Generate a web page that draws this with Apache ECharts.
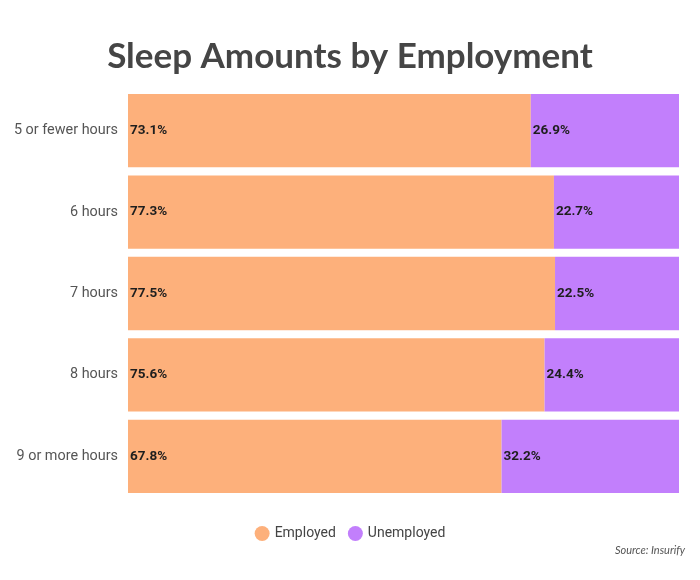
<!DOCTYPE html>
<html><head><meta charset="utf-8">
<script src="https://cdn.jsdelivr.net/npm/echarts@6/dist/echarts.min.js"></script>
<style>html,body{margin:0;padding:0;background:#fff}#c{width:700px;height:580px}</style>
</head><body><div id="c"></div>
<script>
const categories = ["5 or fewer hours", "6 hours", "7 hours", "8 hours", "9 or more hours"];
const employed = [73.1, 77.3, 77.5, 75.6, 67.8];
const unemployed = [26.9, 22.7, 22.5, 24.4, 32.2];
const seriesNames = ["Employed", "Unemployed"];

const chart = echarts.init(document.getElementById('c'));
const lbl = {
  show: true, position: 'insideLeft', distance: 2,
  color: '#1e1e1e', fontFamily: 'Roboto', fontWeight: 'bold', fontSize: 13.5,
  formatter: p => p.value.toFixed(1) + '%'
};
chart.setOption({
  backgroundColor: '#fff',
  title: {
    text: 'Sleep Amounts by Employment', left: 'center', top: 34,
    textStyle: { fontFamily: 'Lato', fontWeight: 'bold', fontSize: 35, color: '#454545' }
  },
  legend: {
    data: seriesNames, bottom: 34, left: 'center', icon: 'circle',
    itemWidth: 15, itemHeight: 15, itemGap: 12,
    textStyle: { fontFamily: 'Roboto', fontSize: 14, color: '#444' }
  },
  graphic: [{
    type: 'text', right: 15, top: 545,
    style: { text: 'Source: Insurify', font: 'italic 11px Lato', fill: '#555' }
  }],
  grid: { left: 128, right: 21, top: 90, bottom: 83 },
  xAxis: { type: 'value', min: 0, max: 100, show: false },
  yAxis: {
    type: 'category', data: categories, inverse: true,
    axisLine: { show: false }, axisTick: { show: false },
    axisLabel: { fontFamily: 'Roboto', fontSize: 14.4, color: '#555', margin: 10 }
  },
  series: [
    { name: seriesNames[0], type: 'bar', stack: 's', data: employed, barCategoryGap: '10%',
      itemStyle: { color: '#FDB07B' }, label: lbl },
    { name: seriesNames[1], type: 'bar', stack: 's', data: unemployed, barCategoryGap: '10%',
      itemStyle: { color: '#C27FFC' }, label: lbl }
  ]
});
</script></body></html>
